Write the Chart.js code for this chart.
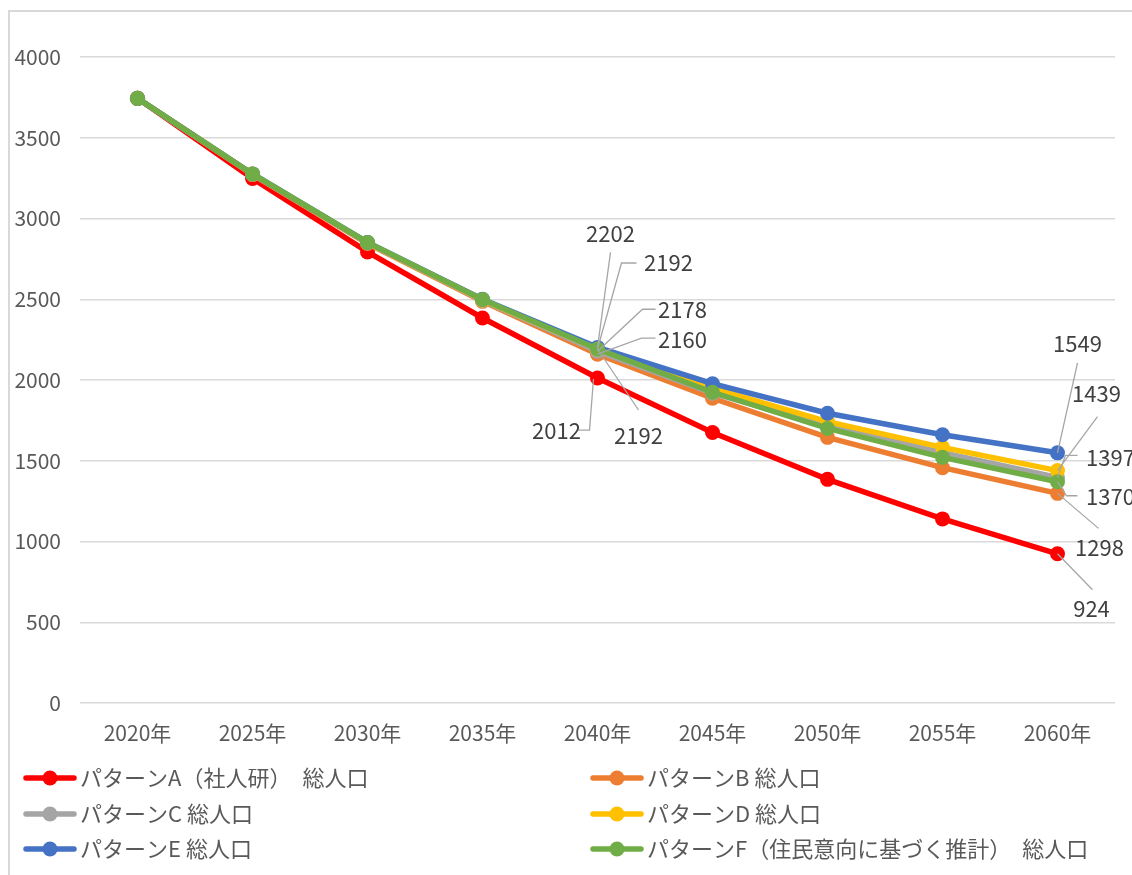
<!DOCTYPE html>
<html>
<meta charset="utf-8">
<head>
    <title>総人口の推計</title>
    <script src="https://cdn.jsdelivr.net/npm/chart.js@4.4.1/dist/chart.umd.min.js"></script>
    <style>
    body { margin: 0; background: #fff; }
    .wrap { width: 1132px; height: 875px; position: relative; }
    </style>
</head>
<body>
<div class="wrap">
    <canvas id="popChart" width="1132" height="875"></canvas>
</div>
<script>
    // 年次
    var years = ["2020年", "2025年", "2030年", "2035年", "2040年", "2045年", "2050年", "2055年", "2060年"];

    // 各パターンの総人口
    var patA = [3744, 3248, 2793, 2384, 2012, 1675, 1385, 1140, 924];
    var patB = [3744, 3272, 2845, 2487, 2160, 1887, 1645, 1457, 1298];
    var patC = [3744, 3274, 2848, 2492, 2178, 1918, 1718, 1550, 1397];
    var patD = [3744, 3275, 2850, 2496, 2192, 1950, 1742, 1583, 1439];
    var patE = [3744, 3276, 2852, 2500, 2202, 1977, 1794, 1661, 1549];
    var patF = [3744, 3276, 2852, 2499, 2192, 1924, 1700, 1521, 1370];

    var seriesNames = [
        "パターンA（社人研）　総人口",
        "パターンB 総人口",
        "パターンC 総人口",
        "パターンD 総人口",
        "パターンE 総人口",
        "パターンF（住民意向に基づく推計）　総人口"
    ];
    var seriesColors = ["#FF0000", "#ED7D31", "#A5A5A5", "#FFC000", "#4472C4", "#70AD47"];
    var seriesData = [patA, patB, patC, patD, patE, patF];

    var uiFont = "'Noto Sans CJK JP', sans-serif";
    var textColor = '#595959';

    // data labels with leader lines (offsets from the point, px)
    // [series, index, text dx, text dy, leader path...]
    var labelSpecs = [
        [4, 4, 13, -114, [[0, 0], [13, -95]]],
        [3, 4, 71, -86, [[0, 0], [24, -86], [39, -86]]],
        [2, 4, 85, -42, [[0, 0], [45, -42], [58, -42]]],
        [1, 4, 85, -15, [[0, 0], [44, -16], [58, -16]]],
        [0, 4, -41, 53, [[-4, 1], [-8, 52], [-19, 52]]],
        [5, 4, 41, 87, [[0, 0], [41, 61]]],
        [4, 8, 20, -109, [[0, 0], [20, -90]]],
        [3, 8, 39, -77, [[0, 0], [40, -54]]],
        [2, 8, 53, -20, [[0, 0], [8, -22], [20, -22]]],
        [5, 8, 53, 15, [[0, 0], [9, 14], [20, 14]]],
        [1, 8, 42, 54, [[0, 0], [41, 35]]],
        [0, 8, 34, 55, [[0, 0], [35, 36]]]
    ];

    var datasets = seriesData.map(function (d, i) {
        return {
            label: seriesNames[i],
            data: d,
            borderColor: seriesColors[i],
            backgroundColor: seriesColors[i],
            borderWidth: 5.5,
            pointRadius: 7.5,
            pointHoverRadius: 7.5,
            pointBorderWidth: 0,
            tension: 0,
            order: 6 - i
        };
    });

    var frame = {
        id: 'frame',
        beforeDraw: function (chart) {
            var ctx = chart.ctx;
            ctx.save();
            ctx.fillStyle = '#fff';
            ctx.fillRect(0, 0, chart.width, chart.height);
            ctx.strokeStyle = '#d9d9d9';
            ctx.lineWidth = 2;
            ctx.strokeRect(9, 11, 2000, 2000);
            ctx.restore();
        }
    };

    var leaderLabels = {
        id: 'leaderLabels',
        afterDatasetsDraw: function (chart) {
            var ctx = chart.ctx;
            ctx.save();
            labelSpecs.forEach(function (s) {
                var el = chart.getDatasetMeta(s[0]).data[s[1]];
                var px = el.x, py = el.y;
                ctx.strokeStyle = '#a6a6a6';
                ctx.lineWidth = 1.3;
                ctx.beginPath();
                s[4].forEach(function (p, k) {
                    if (k === 0) ctx.moveTo(px + p[0], py + p[1]);
                    else ctx.lineTo(px + p[0], py + p[1]);
                });
                ctx.stroke();
                ctx.fillStyle = '#404040';
                ctx.font = '22px ' + uiFont;
                ctx.textAlign = 'center';
                ctx.textBaseline = 'middle';
                ctx.fillText(String(seriesData[s[0]][s[1]]), px + s[2], py + s[3]);
            });
            ctx.restore();
        }
    };

    var bottomLegend = {
        id: 'bottomLegend',
        afterDraw: function (chart) {
            var ctx = chart.ctx;
            ctx.save();
            var cols = [24, 591];
            var rows = [778, 814, 849];
            seriesNames.forEach(function (name, i) {
                var x = cols[i % 2], y = rows[Math.floor(i / 2)];
                ctx.strokeStyle = seriesColors[i];
                ctx.lineWidth = 5.5;
                ctx.lineCap = 'round';
                ctx.beginPath();
                ctx.moveTo(x + 2, y);
                ctx.lineTo(x + 50, y);
                ctx.stroke();
                ctx.fillStyle = seriesColors[i];
                ctx.beginPath();
                ctx.arc(x + 26, y, 7.5, 0, Math.PI * 2);
                ctx.fill();
                ctx.fillStyle = textColor;
                ctx.font = '22px ' + uiFont;
                ctx.textAlign = 'left';
                ctx.textBaseline = 'middle';
                ctx.fillText(name, x + 56, y);
            });
            ctx.restore();
        }
    };

    window.onload = function () {
        var ctx = document.getElementById('popChart').getContext('2d');
        window.popChart = new Chart(ctx, {
            type: 'line',
            data: { labels: years, datasets: datasets },
            plugins: [frame, leaderLabels, bottomLegend],
            options: {
                responsive: false,
                animation: false,
                layout: { padding: { left: 0, top: 57, right: 17, bottom: 0 } },
                plugins: {
                    legend: { display: false },
                    tooltip: { enabled: false }
                },
                scales: {
                    x: {
                        offset: true,
                        grid: { display: false, drawTicks: false },
                        border: { display: false },
                        ticks: {
                            color: textColor,
                            font: { family: uiFont, size: 21 },
                            padding: 17,
                            maxRotation: 0
                        },
                        afterFit: function (s) { s.height = 172; }
                    },
                    y: {
                        min: 0,
                        max: 4000,
                        grid: { color: '#d9d9d9', lineWidth: 1.5, drawTicks: false },
                        border: { display: false },
                        ticks: {
                            stepSize: 500,
                            color: textColor,
                            font: { family: uiFont, size: 21 },
                            padding: 19,
                            callback: function (v) { return String(v); }
                        },
                        afterFit: function (s) { s.width = 80; }
                    }
                }
            }
        });
    };
</script>
</body>
</html>
